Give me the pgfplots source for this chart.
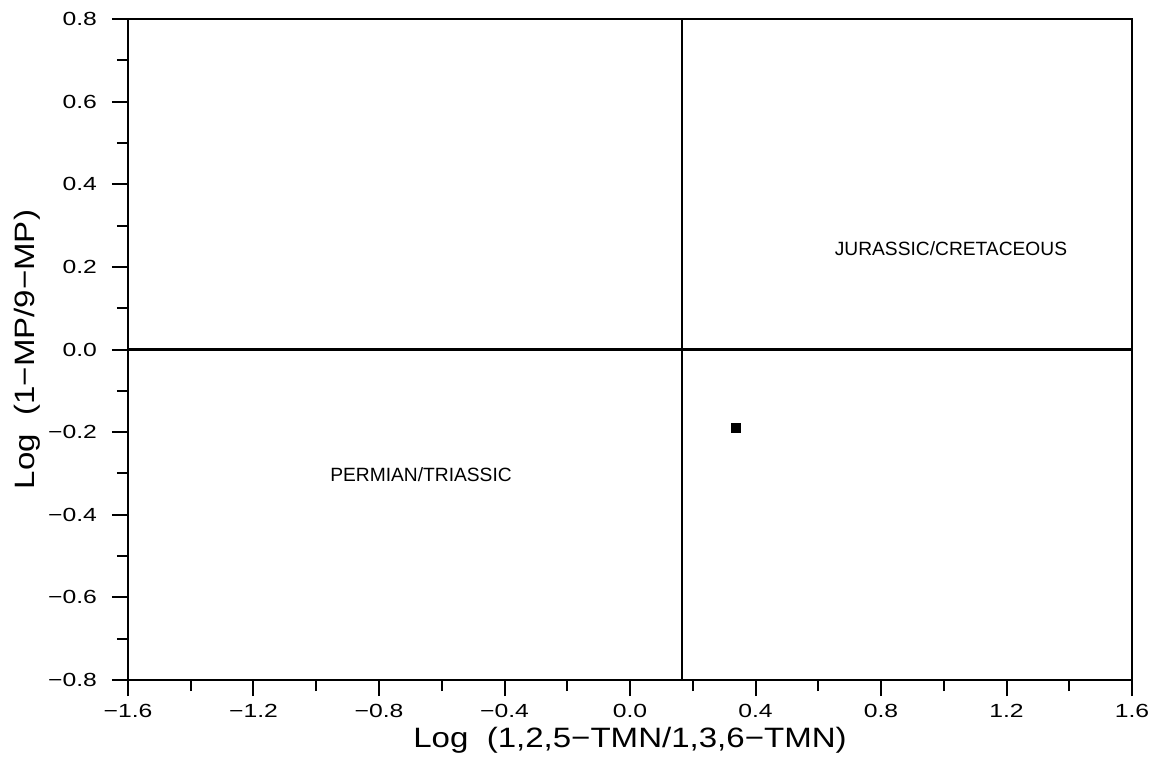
\documentclass[border=0pt]{standalone}
\usepackage{pgfplots}
\pgfplotsset{compat=1.18}
\usepackage{fontspec}
\setmainfont{Liberation Sans}
\newfontfamily\tickfont[FakeStretch=1.3]{Liberation Sans}
\newfontfamily\labfont[FakeStretch=1.18]{Liberation Sans}
\begin{document}
\begin{tikzpicture}
\begin{axis}[name=ax, scale only axis, width=502pt, height=330.5pt,
  xmin=-1.6, xmax=1.6, ymin=-0.8, ymax=0.8,
  axis line style={line width=1.1pt},
  xtick={-1.6,-1.2,-0.8,-0.4,0,0.4,0.8,1.2,1.6},
  xticklabels={−1.6,−1.2,−0.8,−0.4,0.0,0.4,0.8,1.2,1.6},
  minor xtick={-1.4,-1.0,-0.6,-0.2,0.2,0.6,1.0,1.4},
  ytick={-0.8,-0.6,-0.4,-0.2,0,0.2,0.4,0.6,0.8},
  yticklabels={−0.8,−0.6,−0.4,−0.2,0.0,0.2,0.4,0.6,0.8},
  minor ytick={-0.7,-0.5,-0.3,-0.1,0.1,0.3,0.5,0.7},
  xtick pos=bottom, ytick pos=left,
  tick align=outside, major tick length=8pt, minor tick length=5.5pt,
  every tick/.style={black, line width=1pt},
  tick label style={font=\tickfont\fontsize{9.5}{11}\selectfont},
  yticklabel style={xshift=-4pt},
  xticklabel style={yshift=-0.5pt},
  xlabel={Log\ \ (1,2,5−TMN/1,3,6−TMN)},
  ylabel={Log\ \ (1−MP/9−MP)},
  label style={font=\labfont\fontsize{14}{16}\selectfont},
  xlabel style={at={(axis description cs:0.5,-0.1014)}, anchor=base},
  ylabel style={at={(axis description cs:-0.1006,0.5)}, anchor=center},
  clip=false,
]
\addplot[black, line width=1.1pt] coordinates {(-1.6,0) (1.6,0)};
\addplot[black, line width=1.1pt] coordinates {(0.166,-0.8) (0.166,0.8)};
\addplot[only marks, mark=square*, mark size=2.25pt, black] coordinates {(0.338,-0.189)};
\node[font=\fontsize{9.6}{11}\selectfont] at (axis cs:1.023,0.243) {JURASSIC/CRETACEOUS};
\node[font=\fontsize{9.6}{11}\selectfont] at (axis cs:-0.666,-0.304) {PERMIAN/TRIASSIC};
\end{axis}
\pgfresetboundingbox
\path[use as bounding box] (ax.south west) ++(-64pt,-38pt) rectangle ++(575pt,378pt);
\end{tikzpicture}
\end{document}
